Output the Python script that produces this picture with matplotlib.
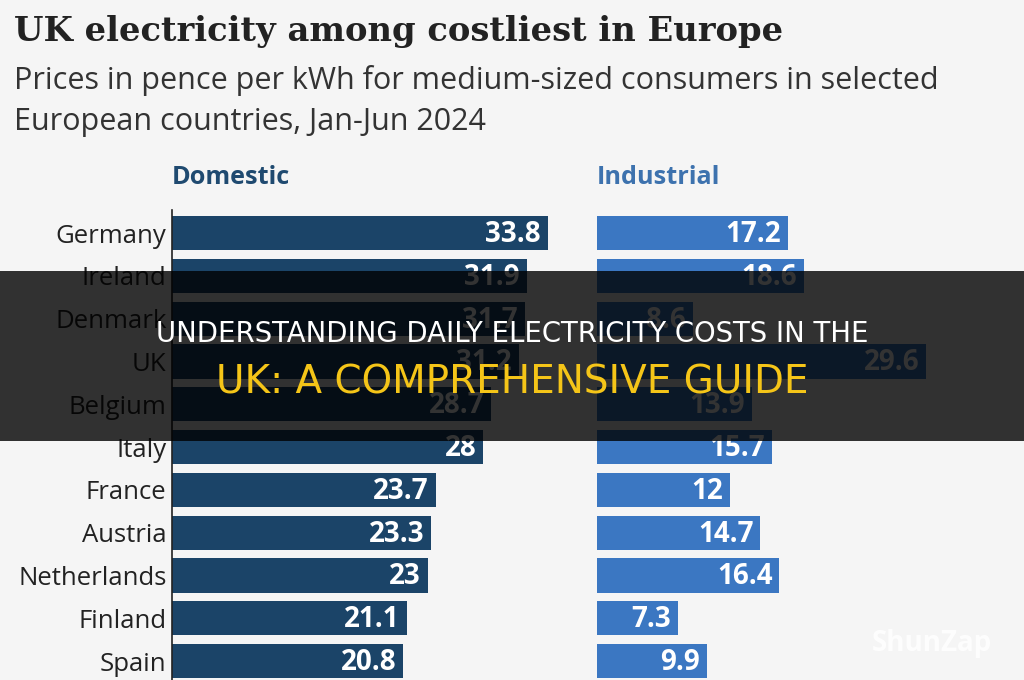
import matplotlib
matplotlib.use("Agg")
import matplotlib.pyplot as plt
from matplotlib.patches import Rectangle

countries = ["Germany", "Ireland", "Denmark", "UK", "Belgium", "Italy", "France",
             "Austria", "Netherlands", "Finland", "Spain"]
domestic = [33.8, 31.9, 31.7, 31.2, 28.7, 28, 23.7, 23.3, 23, 21.1, 20.8]
industrial = [17.2, 18.6, 8.6, 29.6, 13.9, 15.7, 12, 14.7, 16.4, 7.3, 9.9]

title = "UK electricity among costliest in Europe"
subtitle1 = "Prices in pence per kWh for medium-sized consumers in selected"
subtitle2 = "European countries, Jan-Jun 2024"
banner1 = "UNDERSTANDING DAILY ELECTRICITY COSTS IN THE"
banner2 = "UK: A COMPREHENSIVE GUIDE"

BG = "#f5f5f5"
DOM = "#1b4468"
IND = "#3b77c2"

W, H = 1024, 680
fig = plt.figure(figsize=(W / 100, H / 100), dpi=100, facecolor=BG)

def fx(px):
    return px / W

def fy(py):
    return 1 - py / H

scale = 11.12  # px per unit
xmax = 38
ytop_px = 210
ylim = (10.44, -0.54)

ax1 = fig.add_axes([fx(172), 0, xmax * scale / W, fy(ytop_px)])
ax2 = fig.add_axes([fx(597), 0, xmax * scale / W, fy(ytop_px)])

for ax, vals, col in ((ax1, domestic, DOM), (ax2, industrial, IND)):
    ax.set_facecolor("none")
    y = list(range(len(countries)))
    ax.barh(y, vals, height=0.8, color=col, edgecolor="none")
    ax.set_xlim(0, xmax)
    ax.set_ylim(*ylim)
    for s in ("top", "right", "bottom", "left"):
        ax.spines[s].set_visible(False)
    ax.set_xticks([])
    ax.tick_params(left=False)
    for i, v in enumerate(vals):
        ax.annotate(f"{v:g}", xy=(v, i), xytext=(-5, -1), textcoords="offset points",
                    ha="right", va="center", color="white", fontsize=20,
                    fontweight="bold", family="Open Sans")

ax1.spines["left"].set_visible(True)
ax1.spines["left"].set_color("#222222")
ax1.spines["left"].set_linewidth(1.2)
ax1.set_yticks(range(len(countries)))
ax1.set_yticklabels(countries, fontsize=18.5, color="#222222", family="Open Sans")
ax1.tick_params(axis="y", pad=4, length=0)
ax2.set_yticks([])

fig.text(fx(14), fy(32), title, fontsize=24.3, fontweight="bold", family="DejaVu Serif",
         color="#222222", ha="left", va="center")
fig.text(fx(14), fy(80), subtitle1, fontsize=22, family="Open Sans", color="#333333",
         ha="left", va="center")
fig.text(fx(14), fy(122), subtitle2, fontsize=22, family="Open Sans", color="#333333",
         ha="left", va="center")
fig.text(fx(172), fy(177), "Domestic", fontsize=18.2, fontweight="bold", family="Open Sans",
         color="#1f4a70", ha="left", va="center")
fig.text(fx(597), fy(177), "Industrial", fontsize=18.2, fontweight="bold", family="Open Sans",
         color="#3d72ae", ha="left", va="center")

# overlay banner
fig.patches.append(Rectangle((0, fy(441)), 1, (441 - 271) / H, transform=fig.transFigure,
                             facecolor="black", alpha=0.8, edgecolor="none", zorder=10))
fig.text(0.5, fy(334), banner1, fontsize=19.8, family="DejaVu Sans",
         color="white", ha="center", va="center", zorder=11)
fig.text(0.5, fy(382), banner2, fontsize=28, family="DejaVu Sans",
         color="#f5c518", ha="center", va="center", zorder=11)

fig.text(fx(932), fy(643), "ShunZap", fontsize=20, fontweight="bold", family="Open Sans",
         color="white", alpha=0.85, ha="center", va="center", zorder=11)

fig.savefig("out.png", dpi=100, facecolor=BG)
